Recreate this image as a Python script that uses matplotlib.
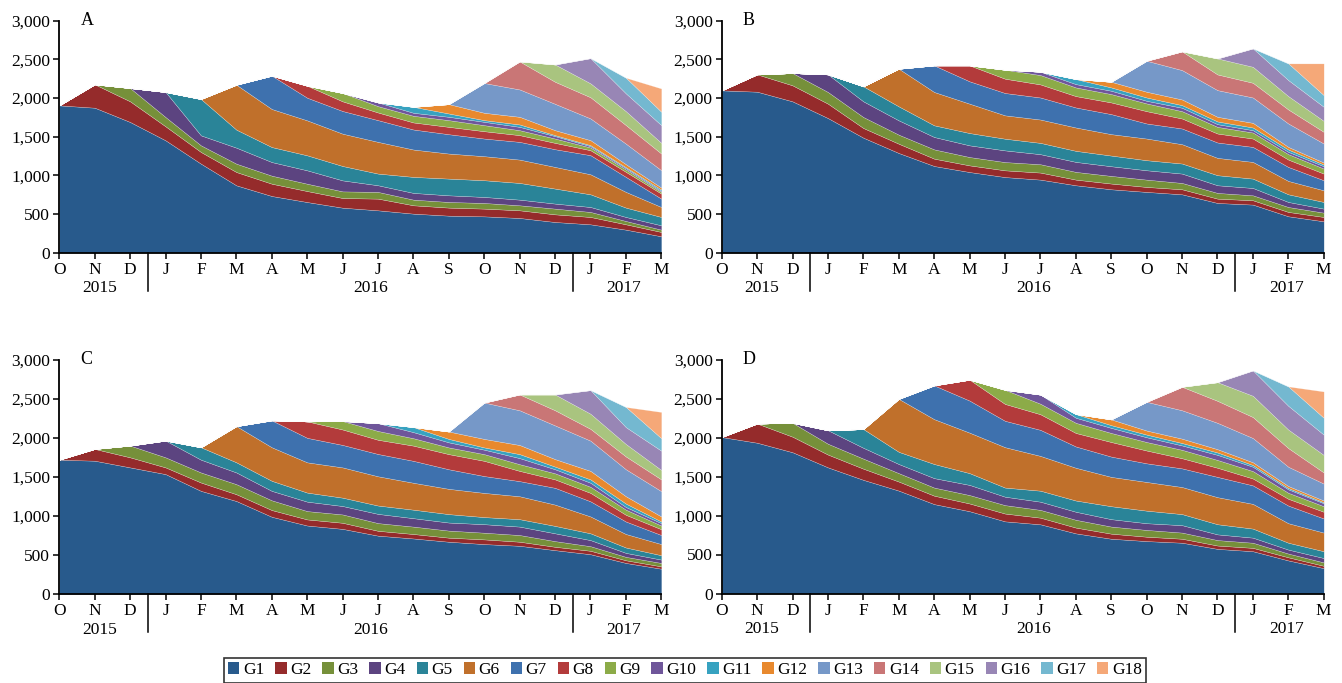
import numpy as np
import matplotlib
matplotlib.use("Agg")
import matplotlib.pyplot as plt
import matplotlib.transforms as mtransforms
from matplotlib.patches import Patch
from matplotlib.ticker import FuncFormatter

plt.rcParams["font.family"] = ["Liberation Serif", "DejaVu Serif"]

months = ["O", "N", "D", "J", "F", "M", "A", "M", "J", "J", "A", "S",
          "O", "N", "D", "J", "F", "M"]
years = ["2015", "2016", "2017"]
groups = ["G%d" % i for i in range(1, 19)]
colors = ["#285a8c", "#952b2b", "#76903a", "#5c4480", "#2a8498", "#c0702b",
          "#3e71ae", "#b33b3b", "#8cab48", "#6f569a", "#37a2c0", "#e8892e",
          "#7698c8", "#c97676", "#a9c47f", "#9886b5", "#74b8d0", "#f5a878"]

# stack tops: one list per month, cumulative G1..Gk
tops_A = [
    [1905],
    [1875, 2177],
    [1690, 1957, 2129],
    [1453, 1634, 1754, 2078],
    [1151, 1302, 1388, 1517, 1987],
    [871, 1043, 1151, 1358, 1591, 2172],
    [733, 892, 996, 1172, 1366, 1858, 2289],
    [655, 797, 892, 1065, 1259, 1711, 2004, 2159],
    [582, 707, 793, 935, 1121, 1539, 1832, 1957, 2065],
    [548, 699, 786, 872, 1023, 1433, 1714, 1813, 1895, 1943],
    [505, 613, 686, 773, 980, 1334, 1593, 1684, 1770, 1809, 1886],
    [479, 583, 656, 742, 958, 1282, 1532, 1627, 1714, 1757, 1800, 1921],
    [470, 570, 643, 721, 937, 1248, 1476, 1571, 1649, 1692, 1714, 1809, 2194],
    [449, 548, 613, 686, 902, 1204, 1433, 1520, 1584, 1627, 1658, 1757, 2111, 2473],
    [397, 496, 570, 635, 829, 1109, 1338, 1420, 1476, 1507, 1520, 1584, 1925, 2210, 2434],
    [367, 462, 527, 591, 755, 1014, 1261, 1325, 1360, 1377, 1390, 1455, 1736, 2010, 2190, 2516],
    [298, 367, 410, 462, 583, 786, 980, 1045, 1075, 1092, 1105, 1144, 1410, 1650, 1830, 2060, 2263],
    [212, 268, 298, 354, 462, 591, 699, 764, 786, 799, 816, 842, 1066, 1282, 1420, 1649, 1822, 2124],
]

tops_B = [
    [2099],
    [2082, 2306],
    [1957, 2164, 2323],
    [1741, 1927, 2078, 2306],
    [1487, 1612, 1754, 1957, 2151],
    [1289, 1409, 1526, 1711, 1892, 2379],
    [1121, 1216, 1336, 1496, 1647, 2078, 2422],
    [1043, 1129, 1237, 1388, 1547, 1927, 2216, 2422],
    [978, 1065, 1172, 1323, 1474, 1776, 2065, 2250, 2366],
    [945, 1036, 1144, 1274, 1420, 1722, 2007, 2176, 2297, 2340],
    [872, 945, 1045, 1174, 1317, 1619, 1878, 2025, 2137, 2180, 2245],
    [820, 894, 993, 1118, 1256, 1533, 1792, 1943, 2051, 2094, 2137, 2210],
    [786, 850, 945, 1066, 1196, 1476, 1671, 1830, 1930, 1964, 2007, 2081, 2482],
    [755, 820, 902, 1023, 1153, 1403, 1606, 1735, 1830, 1874, 1908, 1981, 2361, 2603],
    [643, 699, 773, 872, 1002, 1226, 1425, 1541, 1627, 1662, 1697, 1757, 2102, 2305, 2512],
    [622, 678, 742, 837, 958, 1174, 1368, 1476, 1554, 1584, 1619, 1679, 2007, 2197, 2404, 2642],
    [471, 527, 591, 656, 755, 928, 1109, 1204, 1274, 1304, 1334, 1368, 1671, 1852, 2025, 2232, 2448],
    [406, 462, 518, 570, 656, 807, 937, 1023, 1088, 1118, 1140, 1166, 1412, 1563, 1705, 1887, 2038, 2448],
]

tops_C = [
    [1722],
    [1709, 1860],
    [1623, 1752, 1903],
    [1537, 1623, 1752, 1967],
    [1322, 1429, 1558, 1722, 1881],
    [1192, 1279, 1408, 1558, 1688, 2152],
    [990, 1076, 1201, 1322, 1451, 1881, 2226],
    [878, 956, 1063, 1184, 1300, 1688, 2002, 2213],
    [835, 913, 1020, 1128, 1235, 1623, 1911, 2109, 2217],
    [748, 810, 909, 1027, 1134, 1509, 1795, 1977, 2090, 2190],
    [712, 769, 864, 972, 1081, 1426, 1707, 1902, 1997, 2075, 2140],
    [670, 722, 813, 916, 1024, 1348, 1599, 1793, 1879, 1944, 1988, 2083],
    [640, 700, 786, 895, 986, 1296, 1512, 1707, 1793, 1850, 1879, 1988, 2454],
    [618, 670, 756, 864, 959, 1253, 1447, 1578, 1664, 1742, 1793, 1910, 2355, 2558],
    [562, 605, 678, 778, 873, 1146, 1361, 1469, 1547, 1599, 1633, 1729, 2161, 2355, 2558],
    [510, 554, 613, 691, 778, 994, 1188, 1296, 1374, 1426, 1469, 1578, 1966, 2117, 2311, 2614],
    [398, 432, 476, 527, 596, 769, 929, 1015, 1081, 1115, 1159, 1253, 1599, 1763, 1923, 2139, 2398],
    [324, 354, 398, 441, 497, 640, 756, 830, 877, 908, 929, 994, 1318, 1469, 1590, 1837, 1997, 2334],
]

tops_D = [
    [2006],
    [1933, 2179],
    [1811, 2010, 2188],
    [1617, 1781, 1920, 2093],
    [1457, 1600, 1729, 1868, 2108],
    [1319, 1435, 1543, 1660, 1816, 2495],
    [1146, 1254, 1358, 1479, 1660, 2235, 2668],
    [1055, 1154, 1262, 1392, 1543, 2062, 2473, 2741],
    [925, 1025, 1133, 1241, 1358, 1876, 2214, 2430, 2611],
    [887, 972, 1072, 1177, 1318, 1764, 2098, 2298, 2433, 2550],
    [771, 845, 945, 1048, 1192, 1612, 1885, 2058, 2188, 2253, 2300],
    [702, 767, 858, 953, 1119, 1495, 1755, 1942, 2058, 2123, 2158, 2232],
    [672, 728, 815, 901, 1062, 1430, 1669, 1833, 1942, 2003, 2037, 2089, 2457],
    [651, 702, 781, 876, 1018, 1365, 1604, 1734, 1842, 1898, 1929, 1985, 2349, 2650],
    [572, 615, 685, 758, 888, 1235, 1495, 1612, 1712, 1777, 1808, 1850, 2188, 2470, 2709],
    [542, 585, 651, 716, 832, 1149, 1386, 1474, 1569, 1625, 1647, 1682, 1993, 2262, 2535, 2860],
    [424, 464, 512, 563, 651, 901, 1127, 1214, 1291, 1335, 1352, 1378, 1625, 1864, 2102, 2406, 2655],
    [325, 355, 399, 455, 542, 781, 962, 1048, 1119, 1157, 1170, 1192, 1409, 1552, 1777, 2037, 2253, 2591],
]

FS = 12.5
W, H = 1342, 683

fig = plt.figure(figsize=(W / 100, H / 100), dpi=100)


def panel(rect, tops, letter):
    ax = fig.add_axes(rect)
    x = np.arange(len(months))
    vals = np.zeros((len(groups), len(months)))
    for m, t in enumerate(tops):
        t = np.asarray(t, dtype=float)
        vals[:len(t), m] = np.diff(np.concatenate([[0.0], t]))
    ax.stackplot(x, vals, colors=colors, edgecolor=(1, 1, 1, 0.45), linewidth=0.3)

    ax.set_xlim(0, 17)
    ax.set_ylim(0, 3000)
    ax.set_xticks(x)
    ax.set_xticklabels(months)
    ax.set_yticks(np.arange(0, 3001, 500))
    ax.yaxis.set_major_formatter(FuncFormatter(lambda v, p: "{:,.0f}".format(v)))
    ax.tick_params(axis="both", direction="out", length=4, width=1.1,
                   labelsize=FS, color="black")
    ax.tick_params(axis="x", pad=2.5)
    ax.tick_params(axis="y", pad=2.5)
    for s in ("top", "right"):
        ax.spines[s].set_visible(False)
    for s in ("left", "bottom"):
        ax.spines[s].set_linewidth(1.3)
        ax.spines[s].set_color("black")

    ax.text(0.6, 3000, letter, fontsize=FS + 0.5, va="center", ha="left")

    trans = mtransforms.blended_transform_factory(ax.transData, ax.transAxes)
    frac = 38.0 / (rect[3] * H)
    for xd in (2.5, 14.5):
        ax.plot([xd, xd], [0, -frac], transform=trans, color="black",
                lw=1.1, clip_on=False)
    for xd, yr in zip((1.13, 8.8, 15.95), years):
        ax.annotate(yr, xy=(xd, 0), xycoords=trans, xytext=(0, -28.5),
                    textcoords="offset points", ha="center", va="baseline",
                    fontsize=FS)
    return ax


w = 602 / W
h_top = 232 / H
h_bot = 234 / H
panel([59.3 / W, (H - 252.7) / H, w, h_top], tops_A, "A")
panel([721.7 / W, (H - 252.7) / H, w, h_top], tops_B, "B")
panel([59.3 / W, (H - 594) / H, w, h_bot], tops_C, "C")
panel([721.7 / W, (H - 593.5) / H, w, h_bot], tops_D, "D")

handles = [Patch(facecolor=c, edgecolor="none", label=g) for c, g in zip(colors, groups)]
leg = fig.legend(handles=handles, loc="lower center", bbox_to_anchor=(685 / W, -0.002),
                 ncol=18, fontsize=FS, frameon=True, fancybox=False,
                 edgecolor="black", handlelength=0.65, handleheight=0.65,
                 handletextpad=0.2, columnspacing=0.64, borderpad=0.25,
                 borderaxespad=0.1)
leg.get_frame().set_linewidth(1.2)

fig.savefig("out.png", dpi=100)
